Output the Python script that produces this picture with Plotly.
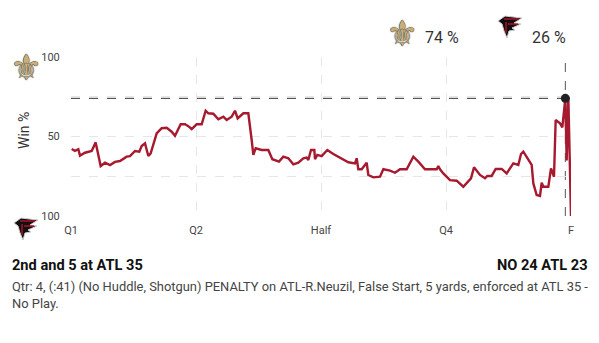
import plotly.graph_objects as go

# Game minutes elapsed (0 = kickoff, 60 = final) and New Orleans win probability (%)
minutes = [0.08, 0.48, 0.88, 1.08, 1.68, 2.48, 2.96, 3.56, 4.08, 4.68, 5.28, 5.88, 6.68, 7.08, 7.68,
           8.2, 8.48, 8.88, 9.28, 9.56, 10.28, 10.88, 11.48, 12.08, 12.48, 13.16, 13.68, 14.08, 14.48,
           15.08, 15.68, 16.16, 16.48, 17.08, 17.68, 18.28, 18.68, 19.28, 19.68, 20.0, 20.68, 21.28,
           21.68, 21.88, 22.16, 22.88, 23.68, 24.16, 24.96, 25.48, 26.08, 26.68, 27.28, 27.88, 28.28,
           28.48, 28.8, 29.2, 29.28, 29.56, 30.08, 30.76, 31.48, 32.48, 33.28, 34.08, 34.28, 34.48,
           34.88, 35.48, 35.68, 36.28, 37.08, 37.48, 38.28, 38.88, 39.48, 40.28, 41.08, 41.68, 42.48,
           43.88, 44.08, 44.28, 44.68, 45.48, 46.28, 47.08, 47.68, 48.0, 48.36, 49.08, 49.68, 49.96,
           50.48, 50.96, 51.68, 52.28, 53.08, 53.68, 54.0, 54.28, 55.28, 55.48, 55.88, 56.28, 56.48,
           56.68, 57.28, 57.6, 57.96, 58.16, 58.68, 58.96, 59.32, 59.48, 59.68, 60.0]
no_win_pct = [42.1, 41, 42, 38, 39.8, 40.9, 46.3, 31.4, 33.5, 32, 34, 34.6, 37.3, 37.7, 40.9,
              40.5, 44, 45.7, 37.7, 39.4, 52, 55.2, 55.5, 53, 50.5, 57.7, 57.7, 56.5, 54.7,
              57.7, 57.7, 66.2, 64.6, 64.3, 60.8, 62.5, 60.4, 62.5, 66.2, 61.4, 64.6, 64.6,
              47.8, 38.4, 42.6, 41.5, 41.5, 35.7, 34.2, 37.3, 36.3, 32.5, 33.5, 36.3, 36.7,
              35.2, 41.5, 41.5, 35.7, 38.4, 37.7, 41.5, 39, 36.3, 33.8, 33.1, 36.3, 29.4,
              29.4, 33.5, 25.8, 24.3, 24.7, 29.4, 28.5, 27.2, 29.4, 29.4, 37.3, 34.2, 29.4,
              29.4, 31.4, 29.4, 26.8, 22.6, 22.2, 18.4, 22, 23.7, 30.6, 25.8, 23.7, 25.2,
              25.2, 29.6, 29.6, 26.8, 33.1, 32.1, 39, 40.5, 32.1, 20.5, 13.2, 12.6, 21,
              18.4, 18.4, 30, 24.7, 60.4, 58.3, 55.8, 74, 35, 75, 0]

quarter_ticks = [0, 15, 30, 45, 60]
quarter_labels = ["Q1", "Q2", "Half", "Q4", "F"]
pct_ticks = [0, 25, 50, 75, 100]
pct_labels = ["100", "", "50", "", "100"]

current_minute = 59.32
current_pct = 74
home_pct_text = "74 %"
away_pct_text = "26 %"
down_text = "2nd and 5 at ATL 35"
score_text = "NO 24 ATL 23"
play_text = ("Qtr: 4, (:41) (No Huddle, Shotgun) PENALTY on ATL-R.Neuzil, False Start, 5 yards, "
             "enforced at ATL 35 -<br>No Play.")

W, H = 599, 343
L, R, T, B = 71, 28, 57, 127

def px(xp):
    return (xp - L) / (W - L - R)

def py(yp):
    return (H - B - yp) / (H - T - B)

fig = go.Figure()
fig.add_trace(go.Scatter(x=minutes, y=no_win_pct, mode="lines",
                         line=dict(color="#A6192E", width=2.4), hoverinfo="skip",
                         cliponaxis=True))
fig.add_trace(go.Scatter(x=[current_minute], y=[current_pct], mode="markers",
                         marker=dict(color="#222", size=9), cliponaxis=False, hoverinfo="skip"))

# reference lines for current play
fig.add_shape(type="line", x0=0, x1=current_minute, y0=current_pct, y1=current_pct,
              line=dict(color="#333", width=1, dash="dash"), layer="below")
fig.add_shape(type="line", x0=current_minute, x1=current_minute, y0=0, y1=100,
              line=dict(color="#555", width=1, dash="dash"), layer="below")

# Saints fleur-de-lis glyphs
for (x, y) in [(25.5, 67), (402, 33)]:
    fig.add_annotation(x=px(x), y=py(y), xref="paper", yref="paper", text="⚜",
                       showarrow=False, font=dict(family="DejaVu Sans", size=36, color="#C9AE79",
                                                  shadow="0px 0px 1px #222, 0px 0px 1px #222"),
                       xanchor="center", yanchor="middle")

# Falcons logo approximations
def falcon(cx, cy):
    ax, ay = px(cx), py(cy)
    body = "M -12,6 L -5,11 L 12,9 L 4,4 L 11,3 L 2,-1 L 5,-3 L -1,-4 L -3,-11 L -6,-4 L -8,3 Z"
    fig.add_shape(type="path", xref="paper", yref="paper", xsizemode="pixel", ysizemode="pixel",
                  xanchor=ax, yanchor=ay, path=body, fillcolor="#111",
                  line=dict(color="#cfcfcf", width=1))
    for p in ["M -6,8 L 9,8", "M -2,3 L 8,3", "M -4,5 L -4,-6"]:
        fig.add_shape(type="path", xref="paper", yref="paper", xsizemode="pixel", ysizemode="pixel",
                      xanchor=ax, yanchor=ay, path=p, line=dict(color="#C8102E", width=1.3))

falcon(510, 27)
falcon(26, 229)

txt = "#333"
fig.add_annotation(x=px(460.5), y=py(26), xref="paper", yref="paper", text=home_pct_text,
                   showarrow=False, font=dict(family="Roboto", size=16, color=txt))
fig.add_annotation(x=px(567.5), y=py(26), xref="paper", yref="paper", text=away_pct_text,
                   showarrow=False, font=dict(family="Roboto", size=16, color=txt))

fig.add_annotation(x=px(14), y=py(131), xref="paper", yref="paper", text="Win %",
                   textangle=-90, showarrow=False, font=dict(family="Roboto", size=14, color=txt))

fig.add_annotation(x=px(10), y=py(265), xref="paper", yref="paper", text=f"<b>{down_text}</b>",
                   showarrow=False, xanchor="left", yanchor="middle",
                   font=dict(family="Roboto", size=14.6, color="#111"))
fig.add_annotation(x=px(590), y=py(265), xref="paper", yref="paper", text=f"<b>{score_text}</b>",
                   showarrow=False, xanchor="right", yanchor="middle",
                   font=dict(family="Roboto", size=14.6, color="#111"))
fig.add_annotation(x=px(10), y=py(277), xref="paper", yref="paper", text=play_text,
                   showarrow=False, xanchor="left", yanchor="top", align="left",
                   font=dict(family="Roboto", size=12.9, color="#444"))

grid = dict(showgrid=True, gridcolor="#e6e6e6", griddash="dash", gridwidth=1,
            zeroline=False, showline=False)
fig.update_xaxes(range=[0, 60], tickvals=quarter_ticks, ticktext=quarter_labels,
                 tickfont=dict(family="Roboto", size=11, color="#444"),
                 ticks="outside", ticklen=4, tickcolor="rgba(0,0,0,0)", **grid)
fig.update_yaxes(range=[0, 100], tickvals=pct_ticks, ticktext=pct_labels,
                 tickfont=dict(family="Roboto", size=11, color="#444"),
                 ticks="outside", ticklen=8, tickcolor="rgba(0,0,0,0)", **grid)

fig.update_layout(width=W, height=H, margin=dict(l=L, r=R, t=T, b=B),
                  plot_bgcolor="white", paper_bgcolor="white", showlegend=False)

fig.write_html("out.html")
